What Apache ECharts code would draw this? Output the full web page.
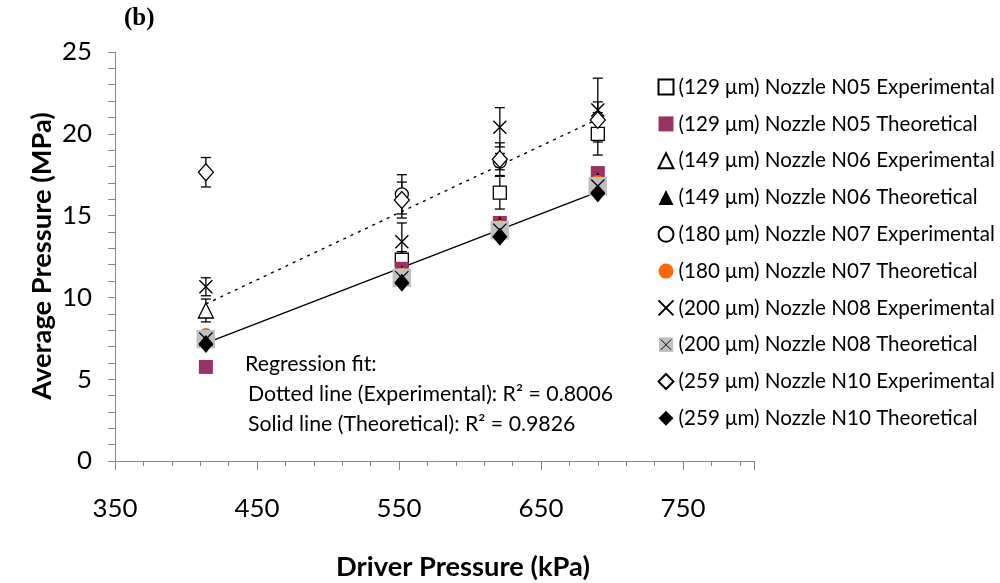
<!DOCTYPE html>
<html>
<head>
<meta charset="utf-8">
<script src="https://cdn.jsdelivr.net/npm/echarts@6/dist/echarts.min.js"></script>
<style>
  html, body { margin: 0; padding: 0; background: #fff; }
  #chart { width: 1000px; height: 583px; }
</style>
</head>
<body>
<div id="chart"></div>
<script>
// Driver pressures in kPa (60, 80, 90 and 100 psi)
const driverPressure = [414, 552, 621, 690];
const xTickLabels = [350, 450, 550, 650, 750];
const yTickLabels = [0, 5, 10, 15, 20, 25];

// Average pressure (MPa) per nozzle; null = no point at that driver pressure
const n05Exp = [null, 12.3, 16.4, 20.0];
const n05ExpErr = [null, 0.5, 1.0, 1.3];
const n05Theo = [5.75, 11.75, 14.55, 17.6];
const n06Exp = [9.2, null, null, null];
const n06ExpErr = [0.7, null, null, null];
const n06Theo = [7.45, 11.5, 14.5, 17.2];
const n07Exp = [null, 16.3, 18.3, null];
const n07ExpErr = [null, 1.2, 0.5, null];
const n07Theo = [7.7, 11.4, 14.3, 17.05];
const n08Exp = [10.65, 13.4, 20.4, 21.45];
const n08ExpErr = [0.55, 1.15, 1.2, 1.95];
const n08Theo = [7.45, 11.2, 14.1, 16.8];
const n10Exp = [17.65, 15.95, 18.45, 20.85];
const n10ExpErr = [0.9, 1.1, 1.0, 1.1];
const n10Theo = [7.15, 10.9, 13.7, 16.35];

// Regression lines: fitted value at the lowest and highest driver pressure
const expFit = [9.6, 20.9];
const theoFit = [7.2, 16.45];

const seriesNames = [
  '(129 \u03bcm) Nozzle N05 Experimental',
  '(129 \u03bcm) Nozzle N05 Theoretical',
  '(149 \u03bcm) Nozzle N06 Experimental',
  '(149 \u03bcm) Nozzle N06 Theoretical',
  '(180 \u03bcm) Nozzle N07 Experimental',
  '(180 \u03bcm) Nozzle N07 Theoretical',
  '(200 \u03bcm) Nozzle N08 Experimental',
  '(200 \u03bcm) Nozzle N08 Theoretical',
  '(259 \u03bcm) Nozzle N10 Experimental',
  '(259 \u03bcm) Nozzle N10 Theoretical'
];
const fitNotes = [
  'Regression fit:',
  'Dotted line (Experimental): R\u00b2 = 0.8006',
  'Solid line (Theoretical): R\u00b2 = 0.9826'
];

const FONT = 'Lato, "Open Sans", sans-serif';

// font size that makes a string span a given width
const measureCtx = document.createElement('canvas').getContext('2d');
function fitSize(text, weight, width) {
  measureCtx.font = weight + ' 100px ' + FONT;
  return Math.round(1000 * width / measureCtx.measureText(text).width) / 10;
}
const tickSize = fitSize('25', 'normal', 30);
const legendSize = fitSize(seriesNames[0], 'normal', 316);
const noteSize = fitSize(fitNotes[1], 'normal', 365);
const titleSize = fitSize('Driver Pressure (kPa)', 'bold', 254);

function points(values) {
  return driverPressure.map((x, i) => values[i] == null ? null : [x, values[i]]).filter(Boolean);
}
function errorPoints(values, errs) {
  return driverPressure.map((x, i) => values[i] == null ? null : [x, values[i] - errs[i], values[i] + errs[i]]).filter(Boolean);
}

const hollow = { color: '#fff', borderColor: '#000', borderWidth: 1.3, opacity: 1 };
const crossPath = 'path://M0,0L10,10M10,0L0,10';
const grayCross = 'image://data:image/svg+xml;utf8,' + encodeURIComponent(
  '<svg xmlns="http://www.w3.org/2000/svg" width="40" height="40" viewBox="0 0 40 40">' +
  '<rect width="40" height="40" fill="#c0c0c0"/>' +
  '<path d="M6,6L34,34M34,6L6,34" stroke="#000" stroke-width="2.6" fill="none"/></svg>');

function scatter(name, values, symbol, size, style) {
  return {
    type: 'scatter', name: name, data: points(values),
    symbol: symbol, symbolSize: size, itemStyle: Object.assign({ opacity: 1 }, style), z: 3,
    emphasis: { disabled: true }
  };
}

function errorBars(values, errs) {
  return {
    type: 'custom', data: errorPoints(values, errs), z: 2, silent: true,
    encode: { x: 0, y: [1, 2] },
    renderItem: function (params, api) {
      const lo = api.coord([api.value(0), api.value(1)]);
      const hi = api.coord([api.value(0), api.value(2)]);
      const cap = 5;
      const st = { stroke: '#000', lineWidth: 1.3 };
      return {
        type: 'group',
        children: [
          { type: 'line', shape: { x1: lo[0], y1: lo[1], x2: hi[0], y2: hi[1] }, style: st },
          { type: 'line', shape: { x1: lo[0] - cap, y1: lo[1], x2: lo[0] + cap, y2: lo[1] }, style: st },
          { type: 'line', shape: { x1: hi[0] - cap, y1: hi[1], x2: hi[0] + cap, y2: hi[1] }, style: st }
        ]
      };
    }
  };
}

function fitLine(ends, dashed) {
  const first = driverPressure[0], last = driverPressure[driverPressure.length - 1];
  return {
    type: 'line', data: [[first, ends[0]], [last, ends[1]]], symbol: 'none', z: 1, silent: true,
    lineStyle: { color: '#000', width: 1.4, type: dashed ? [3, 5] : 'solid' }
  };
}

const axisGray = '#868686';
const chart = echarts.init(document.getElementById('chart'));
chart.setOption({
  animation: false,
  backgroundColor: '#fff',
  textStyle: { fontFamily: FONT },
  grid: { left: 115, right: 246, top: 52, bottom: 122 },
  xAxis: {
    type: 'value', min: 350, max: 800, interval: 100,
    axisLine: { lineStyle: { color: axisGray, width: 1 } },
    axisTick: { length: 9, lineStyle: { color: axisGray } },
    minorTick: { show: true, splitNumber: 5, length: 5, lineStyle: { color: axisGray } },
    splitLine: { show: false },
    axisLabel: {
      fontSize: tickSize, color: '#000', margin: 35, fontFamily: FONT,
      formatter: v => xTickLabels.includes(v) ? String(v) : ''
    }
  },
  yAxis: {
    type: 'value', min: 0, max: 25, interval: 5,
    axisLine: { show: true, lineStyle: { color: axisGray, width: 1 } },
    axisTick: { show: true, length: 7, lineStyle: { color: axisGray } },
    minorTick: { show: true, splitNumber: 5, length: 7, lineStyle: { color: axisGray } },
    splitLine: { show: false },
    axisLabel: {
      fontSize: tickSize, color: '#000', margin: 23, fontFamily: FONT,
      formatter: v => yTickLabels.includes(v) ? String(v) : ''
    }
  },
  legend: {
    orient: 'vertical', left: 656, top: 76.6, padding: 0,
    itemWidth: 15, itemHeight: 15, itemGap: 15.8,
    data: seriesNames,
    textStyle: { fontSize: legendSize, color: '#000', fontFamily: FONT },
    selectedMode: false
  },
  graphic: [
    { type: 'text', left: 124, top: 6, style: { text: '(b)', font: 'bold 25px "Liberation Serif", "DejaVu Serif", serif', fill: '#000' } },
    { type: 'text', x: 42, y: 256, rotation: Math.PI / 2,
      style: { text: 'Average Pressure (MPa)', font: 'bold ' + titleSize + 'px ' + FONT, fill: '#000', align: 'center', verticalAlign: 'middle' } },
    { type: 'text', x: 463, y: 567,
      style: { text: 'Driver Pressure (kPa)', font: 'bold ' + titleSize + 'px ' + FONT, fill: '#000', align: 'center', verticalAlign: 'middle' } },
    { type: 'text', x: 245, y: 364, style: { text: fitNotes[0], font: noteSize + 'px ' + FONT, fill: '#000', verticalAlign: 'middle' } },
    { type: 'text', x: 248, y: 394, style: { text: fitNotes[1], font: noteSize + 'px ' + FONT, fill: '#000', verticalAlign: 'middle' } },
    { type: 'text', x: 248, y: 424, style: { text: fitNotes[2], font: noteSize + 'px ' + FONT, fill: '#000', verticalAlign: 'middle' } }
  ],
  series: [
    fitLine(expFit, true),
    fitLine(theoFit, false),
    errorBars(n05Exp, n05ExpErr),
    errorBars(n06Exp, n06ExpErr),
    errorBars(n07Exp, n07ExpErr),
    errorBars(n08Exp, n08ExpErr),
    errorBars(n10Exp, n10ExpErr),
    scatter(seriesNames[0], n05Exp, 'rect', 13, hollow),
    scatter(seriesNames[1], n05Theo, 'rect', 14, { color: '#993366' }),
    scatter(seriesNames[2], n06Exp, 'triangle', 15, hollow),
    scatter(seriesNames[3], n06Theo, 'triangle', 15, { color: '#000' }),
    scatter(seriesNames[4], n07Exp, 'circle', 13, hollow),
    scatter(seriesNames[5], n07Theo, 'circle', 14, { color: '#ff6600' }),
    scatter(seriesNames[6], n08Exp, crossPath, 13, { color: 'none', borderColor: '#000', borderWidth: 1.4 }),
    scatter(seriesNames[7], n08Theo, grayCross, 19, {}),
    scatter(seriesNames[8], n10Exp, 'diamond', [15, 17], hollow),
    scatter(seriesNames[9], n10Theo, 'diamond', [15, 18], { color: '#000' })
  ]
});
</script>
</body>
</html>
